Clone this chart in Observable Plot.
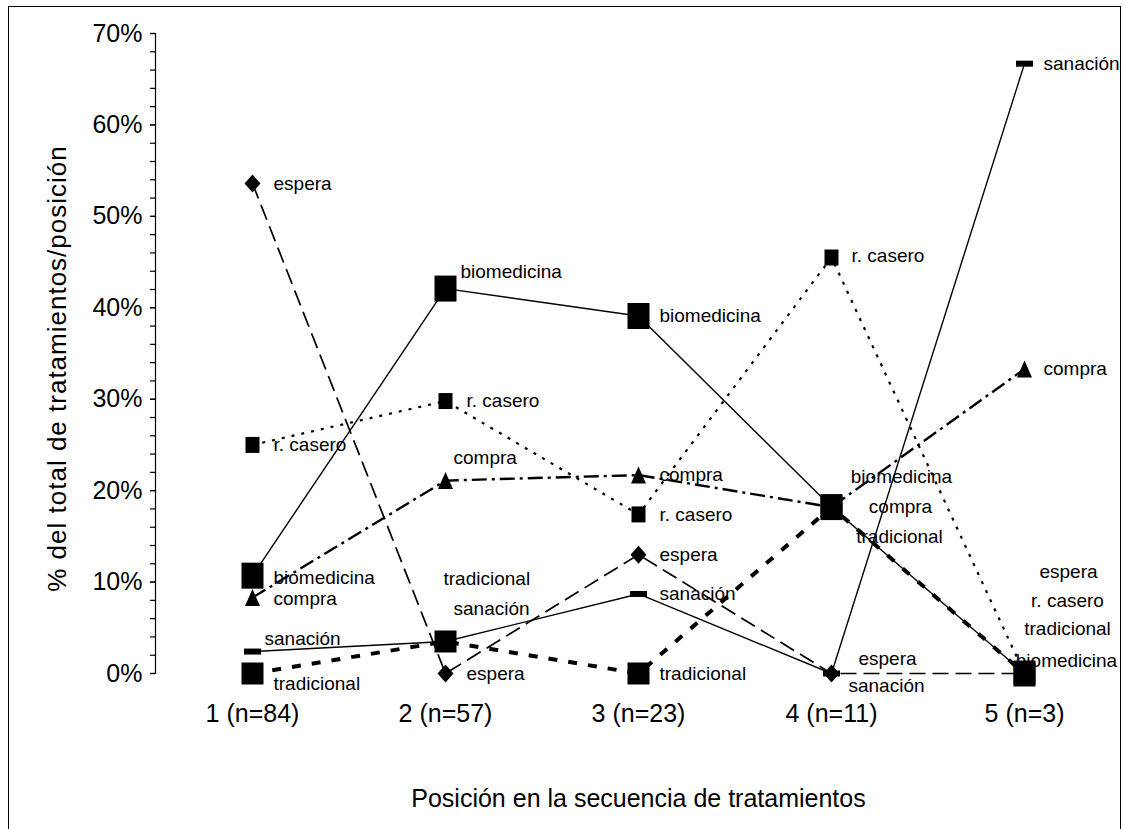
<!DOCTYPE html>
<html>
<head>
<meta charset="utf-8">
<script src="https://cdn.jsdelivr.net/npm/d3@7"></script>
<script src="https://cdn.jsdelivr.net/npm/@observablehq/plot@0.6"></script>
<style>
  html, body { margin: 0; padding: 0; background: #fff; }
  #chart { position: absolute; left: 0; top: 0; }
  #frame { position: absolute; left: 8px; top: 6px; width: 1113px; height: 900px;
           border: 1.5px solid #000; box-sizing: border-box; pointer-events: none; }
  .ytitle text { letter-spacing: 1px; }
</style>
</head>
<body>
<div id="chart"></div>
<div id="frame"></div>
<script>
// ---- data ----
const positions = ["1 (n=84)", "2 (n=57)", "3 (n=23)", "4 (n=11)", "5 (n=3)"];
const seriesNames = ["biomedicina", "espera", "r. casero", "compra", "sanación", "tradicional"];
const biomedicina = [10.7, 42.1, 39.1, 18.2, 0];
const espera      = [53.6, 0, 13.0, 0, 0];
const rCasero     = [25.0, 29.8, 17.4, 45.5, 0];
const compra      = [8.3, 21.1, 21.7, 18.2, 33.3];
const sanacion    = [2.4, 3.5, 8.7, 0, 66.7];
const tradicional = [0, 3.5, 0, 18.2, 0];
const yTicks = [0, 10, 20, 30, 40, 50, 60, 70];
const yMinorTicks = [0, 2, 4, 6, 8, 10, 12, 14, 16, 18, 20, 22, 24, 26, 28, 30, 32, 34, 36, 38, 40,
                     42, 44, 46, 48, 50, 52, 54, 56, 58, 60, 62, 64, 66, 68, 70];
const xTitle = "Posición en la secuencia de tratamientos";
const yTitle = "% del total de tratamientos/posición";

const valuesBySeries = [biomedicina, espera, rCasero, compra, sanacion, tradicional];
const rows = seriesNames.flatMap((s, i) =>
  positions.map((p, j) => ({ serie: s, pos: p, value: valuesBySeries[i][j], idx: j })));

// ---- styles ----
const rectSym = (w, h) => ({ draw(c) { c.rect(-w / 2, -h / 2, w, h); } });
const diamondSym = (w, h) => ({ draw(c) { c.moveTo(0, -h / 2); c.lineTo(w / 2, 0); c.lineTo(0, h / 2); c.lineTo(-w / 2, 0); c.closePath(); } });
const triSym = (w, h) => ({ draw(c) { c.moveTo(0, -h / 2); c.lineTo(w / 2, h / 2); c.lineTo(-w / 2, h / 2); c.closePath(); } });

const styles = {
  "biomedicina": { width: 1.4, dash: null,        symbol: rectSym(22, 26) },
  "espera":      { width: 1.7, dash: "16,7",      symbol: diamondSym(16, 18) },
  "r. casero":   { width: 2.2, dash: "3,7",       symbol: rectSym(14, 16) },
  "compra":      { width: 2.4, dash: "15,5,3,5",  symbol: triSym(15, 17) },
  "sanación":    { width: 1.4, dash: null,        symbol: rectSym(17, 6) },
  "tradicional": { width: 4,   dash: "9,11",      symbol: rectSym(22, 22) }
};

// label offsets [dx, dy, anchor] for each position
const labelLayout = {
  "biomedicina": [[21, 2, "start"], [15, -17, "start"], [21, 0, "start"], [70, -30, "middle"], [42, -13, "middle"]],
  "espera":      [[21, 0, "start"], [21, 0, "start"], [21, 0, "start"], [56, -15, "middle"], [44, -102, "middle"]],
  "r. casero":   [[21, 0, "start"], [21, 0, "start"], [21, 0, "start"], [20, -2, "start"], [43, -73, "middle"]],
  "compra":      [[21, 1, "start"], [8, -23, "start"], [21, 0, "start"], [69, 0, "middle"], [19, 0, "start"]],
  "sanación":    [[12, -13, "start"], [8, -33, "start"], [21, 0, "start"], [55, 12, "middle"], [19, 0, "start"]],
  "tradicional": [[21, 10, "start"], [-2, -63, "start"], [21, 0, "start"], [68, 30, "middle"], [43, -45, "middle"]]
};

const marks = [];
for (const s of seriesNames) {
  const st = styles[s];
  marks.push(Plot.line(rows.filter(r => r.serie === s), {
    x: "pos", y: "value", stroke: "#000", strokeWidth: st.width,
    strokeDasharray: st.dash, strokeLinecap: "butt", strokeLinejoin: "miter"
  }));
}
for (const s of seriesNames) {
  const st = styles[s];
  marks.push(Plot.dot(rows.filter(r => r.serie === s), {
    x: "pos", y: "value", symbol: st.symbol, r: 5, fill: "#000", stroke: "none"
  }));
}
for (const row of rows) {
  const [dx, dy, anchor] = labelLayout[row.serie][row.idx];
  marks.push(Plot.text([row], {
    x: "pos", y: "value", text: "serie", dx, dy, textAnchor: anchor,
    fontSize: 19, fill: "#000"
  }));
}

const chart = Plot.plot({
  width: 1124,
  height: 829,
  marginLeft: 155,
  marginRight: 3,
  marginTop: 33,
  marginBottom: 156,
  x: { type: "point", domain: positions, padding: 0.5, axis: null },
  y: { domain: [0, 70], axis: null },
  style: { fontFamily: "'Liberation Sans', Arial, sans-serif", color: "#000", background: "transparent", overflow: "visible" },
  marks: [
    Plot.frame({ anchor: "left", stroke: "#000", strokeWidth: 1.2 }),
    Plot.axisY({ ticks: yMinorTicks, tickSize: 5, tickFormat: () => "", label: null, strokeWidth: 1.2 }),
    Plot.axisY({ ticks: yTicks, tickSize: 5, tickPadding: 8, tickFormat: d => d + "%", fontSize: 25, label: null, strokeWidth: 1.2 }),
    Plot.axisX({ tickSize: 0, tickPadding: 31, fontSize: 25, label: null }),
    Plot.text([xTitle], { frameAnchor: "bottom", lineAnchor: "middle", textAnchor: "middle", dy: 125, fontSize: 25, fill: "#000" }),
    Plot.text([yTitle], { frameAnchor: "left", lineAnchor: "middle", textAnchor: "middle", rotate: -90, dx: -98, dy: 15, fontSize: 26, fill: "#000", className: "ytitle" }),
    ...marks
  ]
});
document.getElementById("chart").appendChild(chart);
</script>
</body>
</html>
